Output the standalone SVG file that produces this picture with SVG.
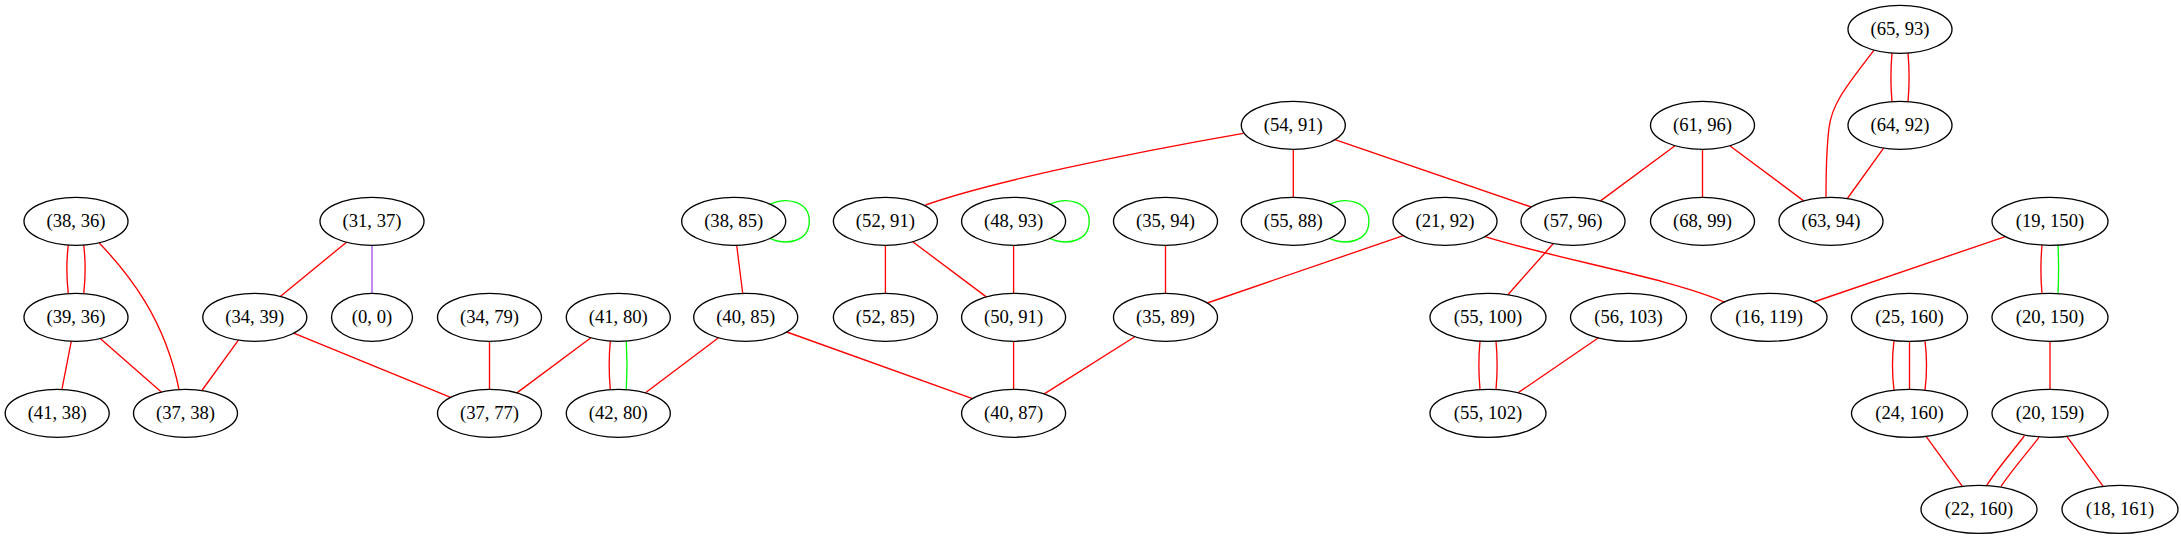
<svg xmlns="http://www.w3.org/2000/svg" width="2181" height="539" viewBox="0 0 2181 539">
<style>
.node ellipse{fill:none;stroke:#000;stroke-width:1.33}
.node text{font-family:"Liberation Serif","Times New Roman",serif;font-size:18.67px;text-anchor:middle;fill:#000}
#edges path{fill:none;stroke-width:1.33}
.r{stroke:#ff0000}
.g{stroke:#00ff00}
.p{stroke:#a64ce8}
</style>
<rect width="2181" height="539" fill="#fff"/>
<g id="edges">
<path class="r" d="M68.3,245 C66.5,260 66.5,278 68.3,293.6"/>
<path class="r" d="M83.7,245 C85.5,260 85.5,278 83.7,293.6"/>
<path class="r" d="M99,242.8 C130,275 165,320 179,389.5"/>
<path class="r" d="M71.3,341.2 L61.9,389.4"/>
<path class="r" d="M100.2,338.5 L161.3,392.1"/>
<path class="r" d="M346.5,242.2 L280.3,296.4"/>
<path class="p" d="M372,245.3 L372,293.3"/>
<path class="r" d="M238.4,340.1 L201.9,390.5"/>
<path class="r" d="M293.7,333.2 L450.6,397.4"/>
<path class="r" d="M489.5,341.3 L489.5,389.3"/>
<path class="r" d="M590.9,337.7 L516.9,392.9"/>
<path class="r" d="M610.3,341 C608.8,357 608.8,373 610.3,389.6"/>
<path class="g" d="M626.3,341 C627.3,357 627.3,373 626.3,389.6"/>
<path class="r" d="M718.5,337.8 L645.5,392.8"/>
<path class="g" d="M769.5,204.5 C785,197 809.3,200 809.3,221.3 C809.3,242.6 785,245.6 769.5,238.1"/>
<path class="r" d="M736.7,245.3 L742.7,293.3"/>
<path class="r" d="M786.8,332 L972.5,398.6"/>
<path class="r" d="M1243.3,133.3 C1130,153 990,182 925.5,205"/>
<path class="r" d="M1293.3,149.3 L1293.3,197.3"/>
<path class="r" d="M1335,139.6 L1531.3,207"/>
<path class="r" d="M885.4,245.3 L885.4,293.3"/>
<path class="r" d="M912.7,241.7 L986.3,296.9"/>
<path class="g" d="M1049.4,204.5 C1064.9,197 1089.2,200 1089.2,221.3 C1089.2,242.6 1064.9,245.6 1049.4,238.1"/>
<path class="r" d="M1013.6,245.3 L1013.6,293.3"/>
<path class="r" d="M1013.6,341.3 L1013.6,389.3"/>
<path class="r" d="M1165.5,245.3 L1165.5,293.3"/>
<path class="r" d="M1134.8,336.7 L1044.3,393.9"/>
<path class="g" d="M1329.1,204.5 C1344.6,197 1368.9,200 1368.9,221.3 C1368.9,242.6 1344.6,245.6 1329.1,238.1"/>
<path class="r" d="M1403.3,235.6 L1207.2,303"/>
<path class="r" d="M1485,236.6 C1560,260 1670,278 1725,302.3"/>
<path class="r" d="M1675,145.7 L1600.5,200.9"/>
<path class="r" d="M1702.5,149.3 L1702.5,197.3"/>
<path class="r" d="M1729.8,145.7 L1803.7,200.9"/>
<path class="r" d="M1892,53 C1890.5,70 1890.5,85 1892,101.6"/>
<path class="r" d="M1908,53 C1909.5,70 1909.5,85 1908,101.6"/>
<path class="r" d="M1874,50.1 C1850,82 1832,102 1829,128 C1826,152 1826,175 1826,197.4"/>
<path class="r" d="M1883.6,148.1 L1847.4,198.5"/>
<path class="r" d="M1553.3,243.5 L1507.9,294.8"/>
<path class="r" d="M1480,341 C1478.5,357 1478.5,373 1480,389.6"/>
<path class="r" d="M1496,341 C1497.5,357 1497.5,373 1496,389.6"/>
<path class="r" d="M1598.5,337.8 L1518,392.8"/>
<path class="r" d="M2005.3,236.6 L1813.7,302"/>
<path class="r" d="M2042,245.1 C2040.5,262 2040.5,277 2042,293.5"/>
<path class="g" d="M2058,245.1 C2058.8,262 2058.8,277 2058,293.5"/>
<path class="r" d="M1894,340.4 C1892,357 1892,374 1894,390.2"/>
<path class="r" d="M1909.5,341.3 L1909.5,389.3"/>
<path class="r" d="M1925,340.4 C1927,357 1927,374 1925,390.2"/>
<path class="r" d="M2050,341.3 L2050,389.3"/>
<path class="r" d="M1926.1,436.3 L1962.4,486.3"/>
<path class="r" d="M2024.3,436 C2012,452 1998,468 1986.7,485.3"/>
<path class="r" d="M2039,437.3 C2027,453 2013,469 2001,486.3"/>
<path class="r" d="M2066.8,436.3 L2103.2,486.3"/>
</g>
<g id="n65_93" class="node"><ellipse cx="1900" cy="29.3" rx="52" ry="24"/><text x="1900" y="34.9">(65, 93)</text></g>
<g id="n54_91" class="node"><ellipse cx="1293.3" cy="125.3" rx="52" ry="24"/><text x="1293.3" y="130.9">(54, 91)</text></g>
<g id="n61_96" class="node"><ellipse cx="1702.5" cy="125.3" rx="52" ry="24"/><text x="1702.5" y="130.9">(61, 96)</text></g>
<g id="n64_92" class="node"><ellipse cx="1900" cy="125.3" rx="52" ry="24"/><text x="1900" y="130.9">(64, 92)</text></g>
<g id="n38_36" class="node"><ellipse cx="76" cy="221.3" rx="52" ry="24"/><text x="76" y="226.9">(38, 36)</text></g>
<g id="n31_37" class="node"><ellipse cx="372" cy="221.3" rx="52" ry="24"/><text x="372" y="226.9">(31, 37)</text></g>
<g id="n38_85" class="node"><ellipse cx="733.7" cy="221.3" rx="52" ry="24"/><text x="733.7" y="226.9">(38, 85)</text></g>
<g id="n52_91" class="node"><ellipse cx="885.4" cy="221.3" rx="52" ry="24"/><text x="885.4" y="226.9">(52, 91)</text></g>
<g id="n48_93" class="node"><ellipse cx="1013.6" cy="221.3" rx="52" ry="24"/><text x="1013.6" y="226.9">(48, 93)</text></g>
<g id="n35_94" class="node"><ellipse cx="1165.5" cy="221.3" rx="52" ry="24"/><text x="1165.5" y="226.9">(35, 94)</text></g>
<g id="n55_88" class="node"><ellipse cx="1293.3" cy="221.3" rx="52" ry="24"/><text x="1293.3" y="226.9">(55, 88)</text></g>
<g id="n21_92" class="node"><ellipse cx="1445" cy="221.3" rx="52" ry="24"/><text x="1445" y="226.9">(21, 92)</text></g>
<g id="n57_96" class="node"><ellipse cx="1573" cy="221.3" rx="52" ry="24"/><text x="1573" y="226.9">(57, 96)</text></g>
<g id="n68_99" class="node"><ellipse cx="1702.5" cy="221.3" rx="52" ry="24"/><text x="1702.5" y="226.9">(68, 99)</text></g>
<g id="n63_94" class="node"><ellipse cx="1831" cy="221.3" rx="52" ry="24"/><text x="1831" y="226.9">(63, 94)</text></g>
<g id="n19_150" class="node"><ellipse cx="2050" cy="221.3" rx="58" ry="24"/><text x="2050" y="226.9">(19, 150)</text></g>
<g id="n39_36" class="node"><ellipse cx="76" cy="317.3" rx="52" ry="24"/><text x="76" y="322.9">(39, 36)</text></g>
<g id="n34_39" class="node"><ellipse cx="254.8" cy="317.3" rx="52" ry="24"/><text x="254.8" y="322.9">(34, 39)</text></g>
<g id="n0_0" class="node"><ellipse cx="372" cy="317.3" rx="40.5" ry="24"/><text x="372" y="322.9">(0, 0)</text></g>
<g id="n34_79" class="node"><ellipse cx="489.5" cy="317.3" rx="52" ry="24"/><text x="489.5" y="322.9">(34, 79)</text></g>
<g id="n41_80" class="node"><ellipse cx="618.3" cy="317.3" rx="52" ry="24"/><text x="618.3" y="322.9">(41, 80)</text></g>
<g id="n40_85" class="node"><ellipse cx="745.7" cy="317.3" rx="52" ry="24"/><text x="745.7" y="322.9">(40, 85)</text></g>
<g id="n52_85" class="node"><ellipse cx="885.4" cy="317.3" rx="52" ry="24"/><text x="885.4" y="322.9">(52, 85)</text></g>
<g id="n50_91" class="node"><ellipse cx="1013.6" cy="317.3" rx="52" ry="24"/><text x="1013.6" y="322.9">(50, 91)</text></g>
<g id="n35_89" class="node"><ellipse cx="1165.5" cy="317.3" rx="52" ry="24"/><text x="1165.5" y="322.9">(35, 89)</text></g>
<g id="n55_100" class="node"><ellipse cx="1488" cy="317.3" rx="58" ry="24"/><text x="1488" y="322.9">(55, 100)</text></g>
<g id="n56_103" class="node"><ellipse cx="1628.5" cy="317.3" rx="58" ry="24"/><text x="1628.5" y="322.9">(56, 103)</text></g>
<g id="n16_119" class="node"><ellipse cx="1769" cy="317.3" rx="58" ry="24"/><text x="1769" y="322.9">(16, 119)</text></g>
<g id="n25_160" class="node"><ellipse cx="1909.5" cy="317.3" rx="58" ry="24"/><text x="1909.5" y="322.9">(25, 160)</text></g>
<g id="n20_150" class="node"><ellipse cx="2050" cy="317.3" rx="58" ry="24"/><text x="2050" y="322.9">(20, 150)</text></g>
<g id="n41_38" class="node"><ellipse cx="57.2" cy="413.3" rx="52" ry="24"/><text x="57.2" y="418.9">(41, 38)</text></g>
<g id="n37_38" class="node"><ellipse cx="185.5" cy="413.3" rx="52" ry="24"/><text x="185.5" y="418.9">(37, 38)</text></g>
<g id="n37_77" class="node"><ellipse cx="489.5" cy="413.3" rx="52" ry="24"/><text x="489.5" y="418.9">(37, 77)</text></g>
<g id="n42_80" class="node"><ellipse cx="618.3" cy="413.3" rx="52" ry="24"/><text x="618.3" y="418.9">(42, 80)</text></g>
<g id="n40_87" class="node"><ellipse cx="1013.6" cy="413.3" rx="52" ry="24"/><text x="1013.6" y="418.9">(40, 87)</text></g>
<g id="n55_102" class="node"><ellipse cx="1488" cy="413.3" rx="58" ry="24"/><text x="1488" y="418.9">(55, 102)</text></g>
<g id="n24_160" class="node"><ellipse cx="1909.5" cy="413.3" rx="58" ry="24"/><text x="1909.5" y="418.9">(24, 160)</text></g>
<g id="n20_159" class="node"><ellipse cx="2050" cy="413.3" rx="58" ry="24"/><text x="2050" y="418.9">(20, 159)</text></g>
<g id="n22_160" class="node"><ellipse cx="1979" cy="509.3" rx="58" ry="24"/><text x="1979" y="514.9">(22, 160)</text></g>
<g id="n18_161" class="node"><ellipse cx="2120" cy="509.3" rx="58" ry="24"/><text x="2120" y="514.9">(18, 161)</text></g>
</svg>
